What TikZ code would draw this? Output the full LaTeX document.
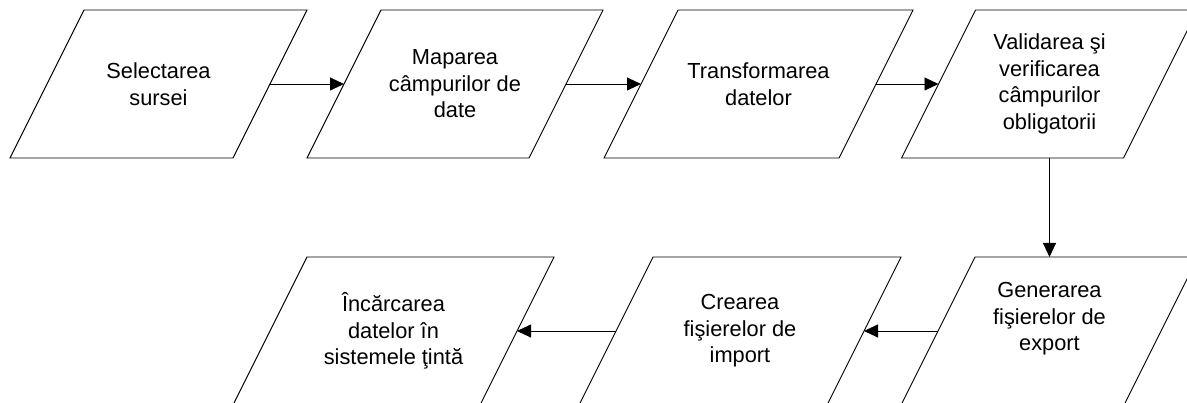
\documentclass[tikz,border=0pt]{standalone}
\usepackage{fontspec}
\setmainfont{Liberation Sans}
\usetikzlibrary{arrows.meta}
\tikzset{
  txt/.style={font=\fontsize{21.8pt}{26.5pt}\selectfont, align=center},
  para/.style={rectangle, draw=none, minimum height=148pt,
    inner sep=0pt, outer sep=0pt, txt},
  edge line/.style={draw=black, line width=0.9pt, line join=miter},
  conn/.style={line width=0.9pt, -{Triangle[length=14pt,width=13pt]}}
}
\begin{document}
\begin{tikzpicture}[x=1pt,y=1pt]
\useasboundingbox (0,0) rectangle (1187,-403);
\clip (0,0) rectangle (1187,-403);
\node[para, minimum width=223pt] (n1) at (158.5,-84) {Selectarea\\sursei};
\node[para, minimum width=222pt] (n2) at (455,-84) {Maparea\\câmpurilor de\\date};
\node[para, minimum width=235pt] (n3) at (758.5,-84) {Transformarea\\datelor};
\node[para, minimum width=222pt] (n4) at (1049.5,-84) {Validarea şi\\verificarea\\câmpurilor\\obligatorii};
\node[para, minimum width=223pt,
  label={[txt, yshift=12pt]center:Generarea\\fişierelor de\\export}] (n5) at (1049.5,-331) {};
\node[para, minimum width=248pt] (n6) at (740,-331) {Crearea\\fişierelor de\\import};
\node[para, minimum width=247pt] (n7) at (393.5,-331) {Încărcarea\\datelor în\\sistemele ţintă};
\foreach \n in {n1,n2,n3,n4,n5,n6,n7}
  \path[edge line] ([xshift=-37pt]\n.south west) -- ([xshift=-37pt]\n.south east)
    -- ([xshift=37pt]\n.north east) -- ([xshift=37pt]\n.north west) -- cycle;
\draw[conn] (n1.east) -- (n2.west);
\draw[conn] (n2.east) -- (n3.west);
\draw[conn] (n3.east) -- (n4.west);
\draw[conn] (n4.south) -- (n5.north);
\draw[conn] (n5.west) -- (n6.east);
\draw[conn] (n6.west) -- (n7.east);
\end{tikzpicture}
\end{document}
